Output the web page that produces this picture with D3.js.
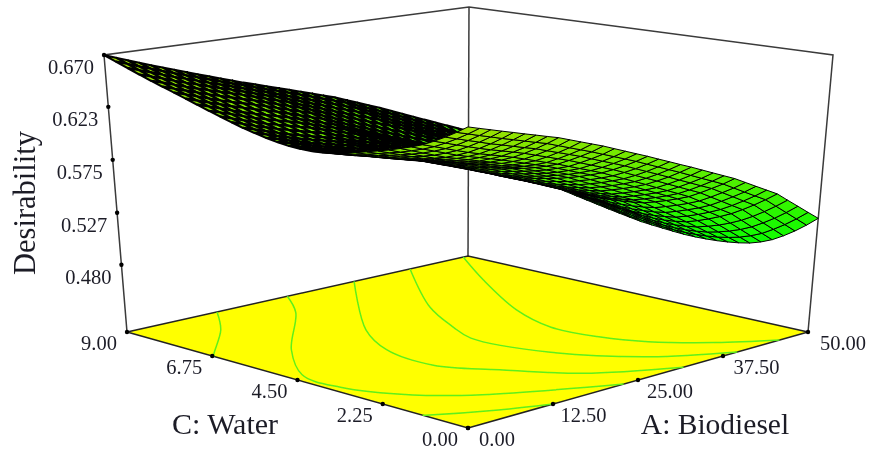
<!DOCTYPE html>
<html>
<head>
<meta charset="utf-8">
<script src="https://cdn.jsdelivr.net/npm/d3@7"></script>
<style>
  html, body { margin: 0; padding: 0; background: #fff; }
  text { font-family: "Liberation Serif", serif; fill: #1d1d28; }
</style>
</head>
<body>
<svg id="chart" width="871" height="452"></svg>
<script>
// axis ticks
const zTicks = [0.480, 0.527, 0.575, 0.623, 0.670];
const aTicks = [0, 12.5, 25, 37.5, 50];
const cTicks = [0, 2.25, 4.5, 6.75, 9];

const zFloor = 0.419;

// desirability x 10000, one row per C step (0 to 9), one column per A step (0 to 50)
const desirabilityGrid = [
[6620,6592,6565,6537,6510,6482,6455,6427,6400,6365,6330,6295,6260,6220,6180,6140,6100,6057,6015,5972,5930,5885,5840,5795,5750,5695,5640,5585,5530,5452,5375,5297,5220],
[6560,6531,6502,6474,6445,6418,6390,6362,6335,6300,6265,6230,6195,6156,6118,6079,6040,5997,5954,5911,5868,5822,5776,5731,5685,5629,5572,5516,5460,5380,5300,5220,5140],
[6505,6475,6445,6415,6385,6358,6330,6302,6275,6241,6208,6174,6140,6101,6062,6024,5985,5941,5898,5854,5810,5764,5719,5673,5628,5570,5512,5453,5395,5313,5231,5150,5068],
[6455,6424,6392,6361,6330,6302,6275,6248,6220,6187,6154,6121,6088,6050,6012,5973,5935,5891,5846,5802,5758,5711,5665,5618,5572,5513,5454,5394,5335,5252,5170,5088,5005],
[6410,6378,6345,6312,6280,6252,6225,6198,6170,6138,6105,6072,6040,6002,5965,5928,5890,5845,5800,5755,5710,5662,5615,5568,5520,5460,5400,5340,5280,5198,5115,5032,4950],
[6375,6341,6308,6274,6240,6212,6185,6158,6130,6099,6068,6036,6005,5968,5930,5892,5855,5809,5764,5718,5672,5624,5577,5530,5482,5420,5358,5297,5235,5154,5072,4991,4910],
[6345,6310,6275,6240,6205,6178,6150,6122,6095,6065,6035,6005,5975,5937,5898,5860,5822,5776,5730,5684,5638,5590,5543,5496,5448,5385,5322,5258,5195,5116,5038,4959,4880],
[6315,6281,6248,6214,6180,6152,6125,6098,6070,6040,6010,5980,5950,5911,5872,5834,5795,5748,5702,5655,5608,5560,5513,5466,5418,5354,5289,5224,5160,5086,5011,4936,4862],
[6290,6258,6225,6192,6160,6132,6105,6078,6050,6020,5990,5960,5930,5890,5850,5810,5770,5722,5675,5628,5580,5532,5485,5438,5390,5325,5260,5195,5130,5060,4990,4920,4850],
[6265,6234,6203,6173,6142,6115,6088,6062,6035,6004,5972,5941,5910,5870,5830,5790,5750,5704,5658,5611,5565,5518,5472,5425,5378,5312,5246,5181,5115,5047,4978,4910,4842],
[6240,6211,6182,6154,6125,6099,6072,6046,6020,5988,5955,5922,5890,5851,5812,5772,5733,5688,5642,5597,5552,5506,5460,5414,5368,5303,5238,5172,5107,5040,4972,4905,4838],
[6218,6191,6164,6137,6110,6084,6059,6034,6008,5974,5940,5907,5873,5835,5796,5758,5720,5676,5632,5589,5545,5499,5454,5408,5362,5298,5234,5169,5105,5038,4971,4904,4837],
[6200,6175,6150,6125,6100,6075,6050,6025,6000,5965,5930,5895,5860,5822,5785,5748,5710,5668,5625,5582,5540,5495,5450,5405,5360,5298,5235,5172,5110,5042,4975,4908,4840],
[6188,6164,6140,6116,6092,6068,6044,6019,5995,5960,5925,5890,5855,5818,5780,5742,5705,5664,5622,5581,5540,5496,5451,5406,5362,5302,5242,5182,5122,5054,4985,4916,4848],
[6183,6159,6135,6112,6088,6065,6042,6018,5995,5960,5925,5890,5855,5817,5779,5741,5703,5663,5622,5582,5542,5498,5454,5410,5366,5309,5252,5194,5137,5067,4998,4928,4858],
[6184,6160,6136,6111,6087,6064,6042,6020,5997,5963,5928,5894,5860,5821,5782,5744,5705,5665,5625,5585,5545,5502,5458,5415,5372,5317,5262,5208,5153,5082,5010,4939,4868],
[6190,6165,6140,6115,6090,6068,6045,6022,6000,5968,5935,5902,5870,5830,5790,5750,5710,5670,5630,5590,5550,5508,5465,5422,5380,5328,5275,5222,5170,5098,5025,4952,4880],
[6204,6178,6151,6124,6098,6076,6052,6030,6008,5976,5945,5914,5882,5842,5802,5762,5722,5683,5644,5604,5565,5524,5482,5441,5400,5348,5296,5244,5192,5118,5045,4972,4898],
[6222,6194,6166,6138,6110,6087,6064,6041,6018,5987,5956,5926,5895,5856,5816,5777,5738,5699,5660,5621,5582,5542,5502,5462,5422,5370,5318,5267,5215,5141,5066,4992,4918],
[6245,6216,6186,6157,6128,6104,6080,6056,6032,6002,5972,5942,5912,5874,5835,5796,5758,5718,5679,5640,5600,5562,5523,5484,5446,5394,5342,5289,5237,5162,5088,5013,4938],
[6270,6240,6210,6180,6150,6125,6100,6075,6050,6020,5990,5960,5930,5892,5855,5818,5780,5740,5700,5660,5620,5582,5545,5508,5470,5418,5365,5312,5260,5185,5110,5035,4960],
[6300,6270,6239,6208,6178,6152,6126,6101,6075,6044,6014,5983,5952,5914,5877,5840,5802,5762,5721,5680,5640,5604,5568,5531,5495,5443,5391,5339,5287,5211,5134,5058,4982],
[6332,6300,6269,6238,6206,6180,6154,6128,6102,6071,6040,6009,5978,5940,5902,5863,5825,5784,5744,5703,5662,5626,5591,5556,5520,5469,5418,5366,5315,5237,5160,5082,5004],
[6365,6333,6302,6270,6238,6211,6184,6157,6130,6098,6066,6035,6003,5964,5925,5886,5847,5806,5766,5726,5685,5650,5615,5580,5545,5494,5444,5393,5342,5263,5184,5106,5027],
[6400,6368,6335,6302,6270,6242,6215,6188,6160,6128,6095,6062,6030,5990,5950,5910,5870,5830,5790,5750,5710,5675,5640,5605,5570,5520,5470,5420,5370,5290,5210,5130,5050],
[6435,6402,6370,6338,6305,6277,6248,6220,6192,6160,6127,6094,6062,6022,5982,5942,5902,5863,5824,5784,5745,5708,5670,5632,5595,5546,5496,5447,5398,5319,5240,5162,5083],
[6470,6438,6405,6372,6340,6311,6282,6254,6225,6192,6160,6128,6095,6056,6016,5977,5938,5899,5860,5821,5782,5742,5702,5662,5622,5574,5525,5476,5428,5351,5274,5197,5120],
[6505,6472,6440,6408,6375,6346,6316,6287,6258,6226,6192,6160,6128,6090,6052,6013,5975,5937,5898,5860,5822,5779,5736,5693,5650,5602,5554,5506,5458,5383,5308,5233,5158],
[6540,6508,6475,6442,6410,6380,6350,6320,6290,6258,6225,6192,6160,6122,6085,6048,6010,5972,5935,5898,5860,5815,5770,5725,5680,5632,5585,5538,5490,5418,5345,5272,5200],
[6578,6545,6512,6478,6445,6414,6382,6351,6320,6288,6255,6222,6190,6154,6118,6081,6045,6008,5972,5935,5898,5852,5806,5760,5715,5668,5620,5572,5525,5458,5390,5322,5255],
[6618,6584,6550,6515,6480,6448,6415,6382,6350,6317,6284,6251,6218,6183,6148,6113,6078,6042,6006,5969,5933,5888,5842,5797,5752,5704,5657,5610,5562,5500,5438,5377,5315],
[6658,6622,6586,6551,6515,6481,6448,6414,6380,6346,6312,6279,6245,6211,6178,6144,6110,6074,6038,6003,5967,5923,5878,5834,5790,5742,5695,5648,5600,5545,5490,5435,5380],
[6700,6662,6625,6588,6550,6515,6480,6445,6410,6375,6340,6305,6270,6238,6205,6172,6140,6105,6070,6035,6000,5958,5915,5872,5830,5782,5735,5688,5640,5592,5545,5498,5450]
];

// floor contours as [A, C] pairs
const contourLines = [
  [[0, 1.2], [0.6, 1.12], [7, 0.45], [12.5, 0]],
  [[13.2, 9], [8.2, 8], [0.5, 6.8], [0, 6.7]],
  [[23.5, 9], [19.2, 8], [8, 6.1], [1.8, 4.7], [1.3, 3.6], [4.7, 2.3], [9.9, 1.4], [22.9, 0]],
  [[33.3, 9], [19.5, 6.2], [15.3, 4.9], [14.4, 3.5], [18, 2.4], [23, 1.1], [31.7, 0]],
  [[41.5, 9], [31.1, 6.6], [26.8, 5.2], [24.9, 4.4], [26.6, 2.6], [32.3, 1], [39.6, 0]],
  [[49.3, 9], [43.4, 7.4], [36.6, 5.3], [33.9, 3.9], [34.5, 2.7], [36.5, 1.8], [40.8, 0.8], [45.8, 0]]
];

const root = d3.select("#chart");

// the reference is a slightly soft scan
root.append("defs").append("filter")
    .attr("id", "soft")
    .append("feGaussianBlur")
    .attr("stdDeviation", 0.4);
const svg = root.append("g").attr("filter", "url(#soft)");

// corners of the box on screen
const floorBox = { front: [468, 428], right: [808, 332], back: [468, 256], left: [127, 332] };
const topBox = { front: [468, 117], right: [833, 55], back: [469, 7], left: [104, 55] };

const aScale = d3.scaleLinear().domain([0, 50]).range([0, 1]);
const cScale = d3.scaleLinear().domain([0, 9]).range([0, 1]);
const zScale = d3.scaleLinear().domain([zFloor, 0.67]).range([0, 1]);
const colorScale = d3.scaleLinear().domain([0.48, 0.67]).range(["#00ff00", "#a4e000"]);

function bilinear(box, u, v, k) {
    return (1 - u) * (1 - v) * box.front[k] + u * (1 - v) * box.right[k] + u * v * box.back[k] + (1 - u) * v * box.left[k];
}

// data to screen
function project(a, c, z) {
    var u = aScale(a), v = cScale(c), t = zScale(z);
    return [0, 1].map(function(k) {
        return bilinear(floorBox, u, v, k) * (1 - t) + bilinear(topBox, u, v, k) * t;
    });
}

const line = d3.line();
const nA = desirabilityGrid[0].length;
const nC = desirabilityGrid.length;
const gridA = d3.range(nA).map(function(j) { return aScale.invert(j / (nA - 1)); });
const gridC = d3.range(nC).map(function(i) { return cScale.invert(i / (nC - 1)); });
const zAt = function(i, j) { return desirabilityGrid[i][j] / 10000; };

// the box: back edges first, surface goes over them
const frame = svg.append("g").attr("fill", "none").attr("stroke", "#3a3a3a").attr("stroke-width", 1.5);
[[project(0, 9, zFloor), project(0, 9, 0.67), project(50, 9, 0.67), project(50, 0, 0.67), project(50, 0, zFloor)],
 [project(50, 9, zFloor), project(50, 9, 0.67)]].forEach(function(pts) {
    frame.append("path").attr("d", line(pts));
});

// floor
const floorPts = [project(0, 0, zFloor), project(50, 0, zFloor), project(50, 9, zFloor), project(0, 9, zFloor)];
svg.append("path")
    .attr("d", line(floorPts) + "Z")
    .attr("fill", "#ffff00")
    .attr("stroke", "#222")
    .attr("stroke-width", 1.5);

// contours on the floor
const contourPath = d3.line()
    .x(function(d) { return project(d[0], d[1], zFloor)[0]; })
    .y(function(d) { return project(d[0], d[1], zFloor)[1]; })
    .curve(d3.curveCatmullRom);
svg.append("g").selectAll("path")
    .data(contourLines)
    .enter()
    .append("path")
    .attr("d", contourPath)
    .attr("fill", "none")
    .attr("stroke", "#5ff01a")
    .attr("stroke-width", 1.5);

// surface cells, far ones first so the near corner covers them
var cells = [];
for (var i = 0; i < nC - 1; i++) {
    for (var j = 0; j < nA - 1; j++) {
        var pts = [[i, j], [i, j + 1], [i + 1, j + 1], [i + 1, j]].map(function(p) {
            return project(gridA[p[1]], gridC[p[0]], zAt(p[0], p[1]));
        });
        cells.push({ i: i, j: j, pts: pts, area: d3.polygonArea(pts) });
    }
}
cells.sort(function(p, q) { return (q.i + q.j) - (p.i + p.j); });

// cells seen at a grazing angle close up to solid black in the reference
function meshWidth(d) {
    if (d.area > 0) return 2.1;
    if (-d.area < 12) return 1.5;
    return 1;
}

svg.append("g").selectAll("path")
    .data(cells)
    .enter()
    .append("path")
    .attr("d", function(d) { return line(d.pts) + "Z"; })
    .attr("fill", function(d) {
        return colorScale((zAt(d.i, d.j) + zAt(d.i + 1, d.j + 1)) / 2);
    })
    .attr("stroke", "#000")
    .attr("stroke-width", meshWidth);

// tick dots and labels
function addTicks(values, pos, dx, dy, fmt) {
    values.forEach(function(v) {
        var p = pos(v);
        svg.append("circle").attr("cx", p[0]).attr("cy", p[1]).attr("r", 2.2).attr("fill", "#000");
        svg.append("text")
            .attr("x", p[0] + dx(v))
            .attr("y", p[1] + dy)
            .attr("text-anchor", "middle")
            .attr("dy", "0.33em")
            .attr("font-size", 20.5)
            .text(fmt(v));
    });
}
addTicks(zTicks, function(z) { return project(0, 9, z); }, function() { return -33; }, 12.5, d3.format(".3f"));
addTicks(aTicks, function(a) { return project(a, 0, zFloor); }, d3.scaleLinear().domain([0, 50]).range([29, 35]), 11.5, d3.format(".2f"));
addTicks(cTicks, function(c) { return project(0, c, zFloor); }, function() { return -28; }, 11.5, d3.format(".2f"));

// axis titles
svg.append("text").attr("x", 225).attr("y", 424).attr("dy", "0.33em").attr("text-anchor", "middle")
    .attr("font-size", 30).text("C: Water");
svg.append("text").attr("x", 715).attr("y", 424).attr("dy", "0.33em").attr("text-anchor", "middle")
    .attr("font-size", 29.5).text("A: Biodiesel");
svg.append("text").attr("transform", "translate(25,203) rotate(-90)").attr("dy", "0.33em").attr("text-anchor", "middle")
    .attr("font-size", 30.5).text("Desirability");
</script>
</body>
</html>
